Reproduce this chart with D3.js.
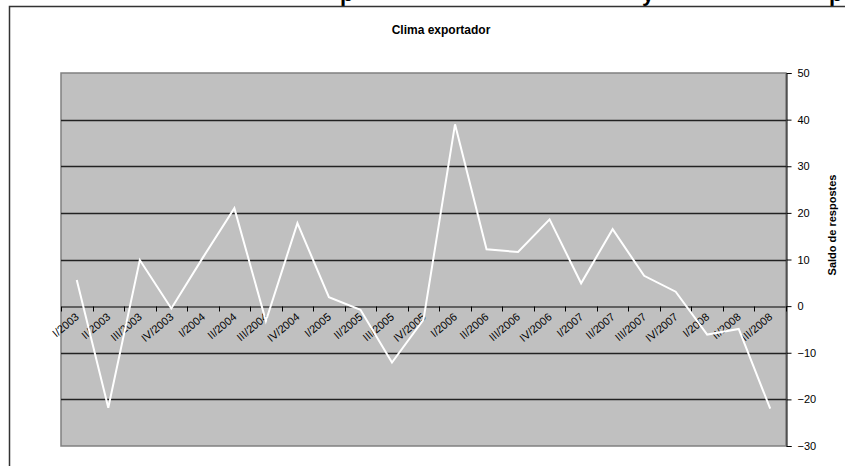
<!DOCTYPE html>
<html>
<head>
<meta charset="utf-8">
<script src="https://cdn.jsdelivr.net/npm/d3@7"></script>
<style>
  html, body { margin: 0; padding: 0; background: #fff; }
  svg { display: block; font-family: "Liberation Sans", Arial, sans-serif; }
</style>
</head>
<body>
<svg id="chart" width="845" height="466"></svg>
<script>
const categories = ["I/2003","II/2003","III/2003","IV/2003","I/2004","II/2004","III/2004","IV/2004",
  "I/2005","II/2005","III/2005","IV/2005","I/2006","II/2006","III/2006","IV/2006",
  "I/2007","II/2007","III/2007","IV/2007","I/2008","II/2008","III/2008"];
const values = [5.6, -21.8, 9.9, -0.5, 10.4, 21.0, -3.2, 17.8,
  1.9, -0.8, -12.1, -2.9, 39.0, 12.2, 11.6, 18.6,
  4.9, 16.5, 6.5, 3.1, -6.1, -4.9, -22.0];
const yTicks = [50, 40, 30, 20, 10, 0, -10, -20, -30];
const chartTitle = "Clima exportador";
const yTitle = "Saldo de respostes";
const cutTitleGlyphs = [{ch: "p", x: 340}, {ch: "y", x: 642}, {ch: "p", x: 829}];

const svg = d3.select("#chart");
const plot = {left: 61, right: 786, top: 73, bottom: 446};

const x = d3.scaleBand().domain(categories).range([plot.left, plot.right]).padding(0);
const y = d3.scaleLinear().domain([-30, 50]).range([plot.bottom, plot.top]);

// cut-off big title above (only descenders visible)
svg.selectAll("text.cut").data(cutTitleGlyphs).enter().append("text")
  .attr("class", "cut")
  .attr("x", d => d.x).attr("y", 1)
  .attr("font-size", 22).attr("font-weight", "bold").attr("fill", "#000")
  .text(d => d.ch);

// outer chart border (partial)
svg.append("path")
  .attr("d", `M9.5,466 L9.5,6.5 L845,6.5`)
  .attr("fill", "none").attr("stroke", "#333").attr("stroke-width", 1.5);

// title
svg.append("text")
  .attr("x", 441).attr("y", 34)
  .attr("text-anchor", "middle")
  .attr("font-size", 12).attr("font-weight", "bold")
  .text(chartTitle);

// plot background
svg.append("rect")
  .attr("x", plot.left).attr("y", plot.top)
  .attr("width", plot.right - plot.left).attr("height", plot.bottom - plot.top)
  .attr("fill", "#c0c0c0")
  .attr("stroke", "#808080").attr("stroke-width", 1.5);

// gridlines
svg.append("g").selectAll("line")
  .data(yTicks.filter(t => t !== 50 && t !== -30 && t !== 0))
  .enter().append("line")
  .attr("x1", plot.left).attr("x2", plot.right)
  .attr("y1", d => Math.round(y(d)) + 0.5).attr("y2", d => Math.round(y(d)) + 0.5)
  .attr("stroke", "#222").attr("stroke-width", 1.3);

// x axis at zero
const xAxis = d3.axisBottom(x).tickSize(0).tickFormat("");
const gx = svg.append("g").attr("transform", `translate(0,${Math.round(y(0)) + 0.5})`).call(xAxis);
gx.select(".domain").attr("stroke", "#606060").attr("stroke-width", 2);
// boundary ticks
const bounds = categories.map(c => x(c)).concat([plot.right]);
gx.selectAll("line.bt").data(bounds).enter().append("line")
  .attr("class", "bt")
  .attr("x1", d => Math.round(d) + 0.5).attr("x2", d => Math.round(d) + 0.5)
  .attr("y1", 0).attr("y2", 5)
  .attr("stroke", "#000").attr("stroke-width", 1);

// x labels rotated
svg.append("g").selectAll("text")
  .data(categories).enter().append("text")
  .attr("transform", d => `translate(${x(d) + x.bandwidth() / 2 + 3},${y(0) + 12}) rotate(-40)`)
  .attr("text-anchor", "end")
  .attr("font-size", 11)
  .attr("fill", "#000")
  .text(d => d);

// right y axis
const yAxis = d3.axisRight(y).tickValues(yTicks).tickSize(5).tickPadding(6);
const gy = svg.append("g").attr("transform", `translate(${plot.right + 0.5},0)`).call(yAxis);
gy.select(".domain").attr("stroke", "#000").attr("stroke-width", 1);
gy.selectAll(".tick line").attr("stroke", "#000");
gy.selectAll(".tick text").attr("font-size", 11).attr("font-family", "Liberation Sans, Arial, sans-serif").attr("fill", "#000");

// y title
svg.append("text")
  .attr("transform", `translate(836,225) rotate(-90)`)
  .attr("text-anchor", "middle")
  .attr("font-size", 11).attr("font-weight", "bold")
  .text(yTitle);

// line
const line = d3.line()
  .x((d, i) => x(categories[i]) + x.bandwidth() / 2)
  .y(d => y(d));
svg.append("path")
  .datum(values)
  .attr("d", line)
  .attr("fill", "none")
  .attr("stroke", "#fff")
  .attr("stroke-width", 2)
  .attr("stroke-linejoin", "miter");
</script>
</body>
</html>
